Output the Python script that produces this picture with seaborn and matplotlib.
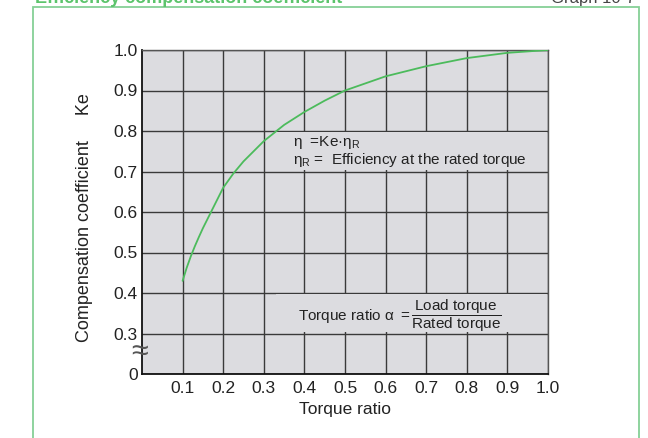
import numpy as np
import pandas as pd
import matplotlib
matplotlib.use("Agg")
import matplotlib.pyplot as plt
import seaborn as sns
from matplotlib.patches import Rectangle

# values
torque_ratio = [0.1, 0.11, 0.12, 0.13, 0.14, 0.15, 0.17, 0.2, 0.225, 0.25, 0.3, 0.35, 0.4,
                0.45, 0.5, 0.6, 0.7, 0.8, 0.9, 1.0]
ke = [0.43, 0.462, 0.49, 0.515, 0.538, 0.56, 0.60, 0.66, 0.695, 0.725, 0.775, 0.815, 0.847,
      0.875, 0.90, 0.935, 0.96, 0.98, 0.993, 1.0]

x_ticks = [0.1, 0.2, 0.3, 0.4, 0.5, 0.6, 0.7, 0.8, 0.9, 1.0]
x_tick_labels = ["0.1", "0.2", "0.3", "0.4", "0.5", "0.6", "0.7", "0.8", "0.9", "1.0"]
y_ticks = [0.2, 0.3, 0.4, 0.5, 0.6, 0.7, 0.8, 0.9, 1.0]
y_tick_labels = ["0", "0.3", "0.4", "0.5", "0.6", "0.7", "0.8", "0.9", "1.0"]

title_text = "Efficiency compensation coefficient"
graph_text = "Graph 10-7"
x_label = "Torque ratio"
y_label = "Compensation coefficient     Ke"
note_1 = "η  =Ke·η$_\\mathrm{R}$"
note_2 = "η$_\\mathrm{R}$ =  Efficiency at the rated torque"
note_3 = "Torque ratio α $=\\dfrac{\\mathrm{Load\\ torque}}{\\mathrm{Rated\\ torque}}$"

bg = "#dcdce0"
grid_col = "#3a3a3a"
curve_col = "#4cbb5c"
frame_col = "#86d096"

sns.set_style("whitegrid", {"axes.facecolor": bg, "grid.color": grid_col})
plt.rcParams["font.family"] = ["Liberation Sans", "DejaVu Sans"]
plt.rcParams["mathtext.fontset"] = "custom"
plt.rcParams["mathtext.rm"] = "Liberation Sans"
plt.rcParams["mathtext.it"] = "Liberation Sans:italic"

fig = plt.figure(figsize=(6.48, 4.38), dpi=100)

# outer green frame and headings (cut off at the top like the source)
fig.patches.append(Rectangle((33 / 648, -0.1), 606 / 648, 1.1 - 7 / 438, transform=fig.transFigure,
                             fill=False, edgecolor=frame_col, lw=1.3))
fig.text(35 / 648, 1 - 3 / 438, title_text, color="#5cc46c", fontsize=13, fontweight="bold",
         ha="left", va="baseline")
fig.text(635 / 648, 1 - 3 / 438, graph_text, color="#444444", fontsize=12, ha="right", va="baseline")

ax = fig.add_axes([142 / 648, 1 - 374 / 438, 406 / 648, 324 / 438])

df = pd.DataFrame({"Torque ratio": torque_ratio, "Ke": ke})
sns.lineplot(data=df, x="Torque ratio", y="Ke", ax=ax, color=curve_col, lw=1.3, zorder=3)

ax.set_xlim(0, 1.0)
ax.set_ylim(0.2, 1.0)
ax.set_xticks(x_ticks)
ax.set_xticklabels(x_tick_labels)
ax.set_yticks(y_ticks)
ax.set_yticklabels(y_tick_labels)
ax.tick_params(axis="both", length=0, labelsize=12.5, colors="#222222")
ax.tick_params(axis="x", pad=5)
ax.tick_params(axis="y", pad=3)
ax.set_axisbelow(True)
ax.grid(True, color=grid_col, lw=1.0)

for side in ["top", "right"]:
    ax.spines[side].set_color("#555555")
    ax.spines[side].set_linewidth(1.0)
for side in ["left", "bottom"]:
    ax.spines[side].set_color("#111111")
    ax.spines[side].set_linewidth(1.3)

ax.set_xlabel(x_label, fontsize=12.5, color="#222222")
ax.set_ylabel(y_label, fontsize=13, color="#222222")
ax.xaxis.set_label_coords(0.5, -0.086)
ax.yaxis.set_label_coords(-0.12, 0.483)

# boxes behind the notes hide the grid lines
ax.add_patch(Rectangle((0.33, 0.703), 0.667, 0.094, facecolor=bg, edgecolor="none", zorder=1))
ax.add_patch(Rectangle((0.33, 0.303), 0.667, 0.094, facecolor=bg, edgecolor="none", zorder=1))

ax.text(0.372, 0.772, note_1, fontsize=11, color="#222222", ha="left", va="center", zorder=4)
ax.text(0.372, 0.728, note_2, fontsize=11, color="#222222", ha="left", va="center", zorder=4)
ax.text(0.385, 0.345, note_3, fontsize=11, color="#222222", ha="left", va="center", zorder=4)

# axis break mark
ax.text(-0.005, 0.255, "≈", fontsize=22, color="#555555", ha="center", va="center", zorder=5,
        clip_on=False)

fig.savefig("out.png", dpi=100)
